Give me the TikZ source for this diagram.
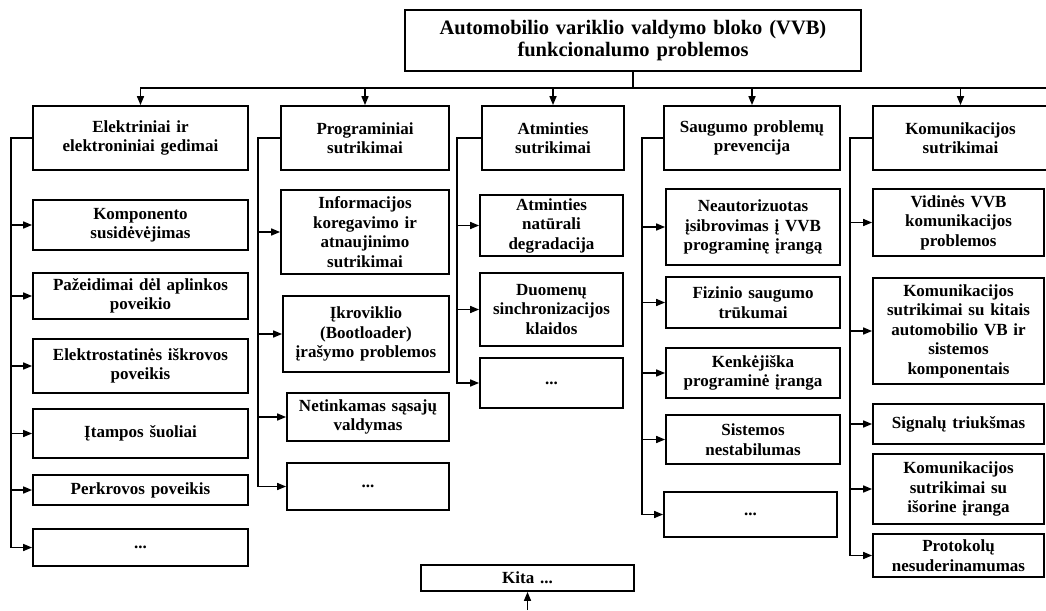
\documentclass[tikz,border=0pt]{standalone}
\usepackage{fontspec}
\setmainfont{Liberation Serif}
\usetikzlibrary{arrows.meta}

% Box placed by its corners: [options]{name}{x1}{y1}{x2}{y2}{text}
\newcommand{\cornerbox}[7][]{%
  \pgfmathsetmacro{\cbw}{#5-#3}\pgfmathsetmacro{\cbh}{#6-#4}%
  \pgfmathsetmacro{\cbx}{(#3+#5)/2}\pgfmathsetmacro{\cby}{(#4+#6)/2}%
  \node[box,#1,minimum width=\cbw pt,minimum height=\cbh pt] (#2) at (\cbx,\cby) {#7};}
% slightly wider interword spaces
\newcommand{\widespaces}{\spaceskip=0.34em plus 0.1em\relax}

\begin{document}
\begin{tikzpicture}[x=1pt,y=-1pt,
  box/.style={draw=black, line width=1.8pt, align=center, inner sep=0pt,
    font=\fontsize{17}{19.5}\selectfont\bfseries\widespaces},
  title/.style={font=\fontsize{20.5}{22}\selectfont\bfseries\widespaces},
  ln/.style={line width=1.6pt},
  arr/.style={line width=1.6pt, -{Triangle[length=9pt,width=7pt]}}]
\useasboundingbox (0,0) rectangle (1046,610);

% root
\cornerbox[title]{top}{405}{10}{861}{71}{Automobilio variklio valdymo bloko (VVB)\\funkcionalumo problemos}

% category headers
\cornerbox{h1}{33}{106}{248}{170}{Elektriniai ir\\elektroniniai gedimai}
\cornerbox{h2}{281}{106}{449}{170}{Programiniai\\sutrikimai}
\cornerbox{h3}{482}{106}{624}{170}{Atminties\\sutrikimai}
\cornerbox{h4}{664}{106}{840}{170}{Saugumo problemų\\prevencija}
\cornerbox{h5}{873}{106}{1048}{170}{Komunikacijos\\sutrikimai}

% distribution bus
\coordinate (bus) at (633,88);
\coordinate (busend) at (1047,88);
\draw[ln] (top.south) -- (bus) -- (busend);
\foreach \h in {h1,h2,h3,h4,h5} \draw[arr] (bus) -| (\h.north);

% electrical / electronic faults
\cornerbox{e1}{33}{200}{248}{250}{Komponento\\susidėvėjimas}
\cornerbox{e2}{33}{273}{248}{319}{Pažeidimai dėl aplinkos\\poveikio}
\cornerbox{e3}{33}{339}{248}{393}{Elektrostatinės iškrovos\\poveikis}
\cornerbox{e4}{33}{409}{248}{458}{Įtampos šuoliai}
\cornerbox{e5}{33}{475}{248}{505}{Perkrovos poveikis}
\cornerbox{e6}{33}{529}{248}{566}{...}

% software faults
\cornerbox{p1}{281}{190}{449}{274}{Informacijos\\koregavimo ir\\atnaujinimo\\sutrikimai}
\cornerbox{p2}{283}{296}{449}{372}{Įkroviklio\\(Bootloader)\\įrašymo problemos}
\cornerbox{p3}{287}{393}{449}{441}{Netinkamas sąsajų\\valdymas}
\cornerbox{p4}{287}{463}{449}{510}{...}

% memory faults
\cornerbox{a1}{480}{195}{623}{256}{Atminties\\natūrali\\degradacija}
\cornerbox{a2}{480}{273}{623}{346}{Duomenų\\sinchronizacijos\\klaidos}
\cornerbox{a3}{480}{358}{623}{408}{...}

% security
\cornerbox{s1}{666}{189}{840}{265}{Neautorizuotas\\įsibrovimas į VVB\\programinę įrangą}
\cornerbox{s2}{666}{277}{840}{328}{Fizinio saugumo\\trūkumai}
\cornerbox{s3}{666}{348}{840}{398}{Kenkėjiška\\programinė įranga}
\cornerbox{s4}{666}{415}{840}{464}{Sistemos\\nestabilumas}
\cornerbox{s5}{664}{492}{837}{537}{...}

% communication faults
\cornerbox{k1}{873}{189}{1044}{256}{Vidinės VVB\\komunikacijos\\problemos}
\cornerbox{k2}{873}{278}{1044}{384}{Komunikacijos\\sutrikimai su kitais\\automobilio VB ir\\sistemos\\komponentais}
\cornerbox{k3}{873}{404}{1044}{444}{Signalų triukšmas}
\cornerbox{k4}{873}{454}{1044}{524}{Komunikacijos\\sutrikimai su\\išorine įranga}
\cornerbox{k5}{873}{534}{1044}{577}{Protokolų\\nesuderinamumas}

% trunks on the left of each column
\coordinate (t1) at (11,138);
\coordinate (t2) at (258,138);
\coordinate (t3) at (457,138);
\coordinate (t4) at (642,138);
\coordinate (t5) at (850,138);
\foreach \c in {e1,e2,e3,e4,e5,e6} \draw[arr] (h1.west) -- (t1) |- (\c.west);
\foreach \c in {p1,p2,p3,p4} \draw[arr] (h2.west) -- (t2) |- (\c.west);
\foreach \c in {a1,a2,a3} \draw[arr] (h3.west) -- (t3) |- (\c.west);
\foreach \c in {s1,s2,s3,s4,s5} \draw[arr] (h4.west) -- (t4) |- (\c.west);
\foreach \c in {k1,k2,k3,k4,k5} \draw[arr] (h5.west) -- (t5) |- (\c.west);

% other
\cornerbox{kita}{421}{565}{634}{591}{Kita ...}
\coordinate (kin) at (527.5,610);
\draw[arr] (kin) -- (kita.south);
\end{tikzpicture}
\end{document}
